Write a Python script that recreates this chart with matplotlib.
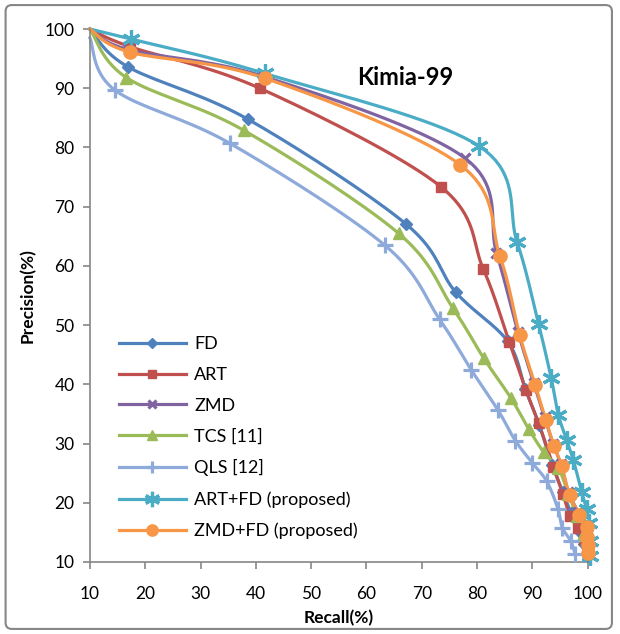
import numpy as np
import matplotlib
matplotlib.use("Agg")
import matplotlib.pyplot as plt
from matplotlib.patches import FancyBboxPatch

plt.rcParams['font.family'] = ['Lato', 'DejaVu Sans']

# Data (Recall %, Precision %)
fd_x = [10, 16.9, 38.5, 67.1, 76.1, 85.5, 88.7, 91.2, 93.6, 95.5, 97.0, 98.4, 99.4, 100]
fd_y = [100, 93.6, 84.8, 67.1, 55.6, 47.3, 39.2, 33.2, 26.3, 21.8, 18.2, 15.3, 13.0, 11.0]

art_x = [10, 17.3, 40.7, 73.4, 81.1, 85.8, 88.8, 91.1, 93.8, 95.5, 96.8, 98.3, 99.3, 100]
art_y = [100, 97.0, 90.0, 73.4, 59.5, 47.2, 39.1, 33.5, 26.1, 21.5, 17.8, 15.7, 13.8, 11.5]

zmd_x = [10, 17.0, 41.4, 77.8, 83.5, 87.4, 90.2, 92.2, 93.7, 95.1, 96.5, 98.3, 99.6, 99.8, 99.9, 100]
zmd_y = [100, 96.5, 92.0, 78.2, 62.2, 48.8, 40.3, 34.5, 30.0, 26.6, 21.8, 18.4, 16.2, 14.5, 13.0, 11.6]

tcs_x = [10, 16.6, 37.8, 65.8, 75.6, 81.2, 86.1, 89.3, 92.0, 94.7, 96.5, 98.0, 99.2, 100]
tcs_y = [100, 91.8, 82.9, 65.5, 52.9, 44.4, 37.7, 32.5, 28.6, 25.8, 21.5, 17.8, 14.5, 11.5]

qls_x = [10, 14.5, 35.3, 63.3, 73.2, 78.9, 83.8, 86.9, 90.0, 92.6, 94.6, 95.4, 96.9, 97.7]
qls_y = [98.5, 89.7, 80.7, 63.5, 51.0, 42.5, 35.6, 30.5, 26.7, 23.6, 19.0, 15.8, 13.6, 11.4]

artfd_x = [10, 17.5, 41.6, 80.4, 87.2, 91.1, 93.4, 94.7, 96.2, 97.4, 98.9, 99.8, 100.3, 100.4, 100.4]
artfd_y = [100, 98.3, 92.5, 80.2, 64.1, 50.2, 41.0, 34.8, 30.6, 27.2, 21.8, 19.0, 16.5, 13.5, 11.0]

zmdfd_x = [10, 17.2, 41.6, 76.9, 84.1, 87.7, 90.5, 92.4, 93.9, 95.3, 96.7, 98.5, 99.8, 99.9, 100, 100]
zmdfd_y = [100, 96.1, 91.7, 77.1, 61.7, 48.3, 39.9, 34.0, 29.6, 26.2, 21.3, 18.0, 15.9, 14.3, 12.9, 11.5]

labels = ["FD", "ART", "ZMD", "TCS [11]", "QLS [12]", "ART+FD (proposed)", "ZMD+FD (proposed)"]
colors = ["#4F81BD", "#C0504D", "#8064A2", "#9BBB59", "#8EAADB", "#4BACC6", "#F79646"]
markers = ["D", "s", "x", "^", "+", (6, 2, 0), "o"]
msizes = [6, 7, 7, 8, 11, 13, 9.5]
series = [(fd_x, fd_y), (art_x, art_y), (zmd_x, zmd_y), (tcs_x, tcs_y),
          (qls_x, qls_y), (artfd_x, artfd_y), (zmdfd_x, zmdfd_y)]


def smooth(x, y, n=20):
    # Catmull-Rom style smoothing, like Excel "smoothed line"
    p = np.column_stack([x, y]).astype(float)
    p = np.vstack([p[0], p, p[-1]])
    out = []
    for i in range(1, len(p) - 2):
        p0, p1, p2, p3 = p[i - 1], p[i], p[i + 1], p[i + 2]
        c1 = p1 + (p2 - p0) / 6
        c2 = p2 - (p3 - p1) / 6
        t = np.linspace(0, 1, n)[:, None]
        b = (1 - t) ** 3 * p1 + 3 * (1 - t) ** 2 * t * c1 + 3 * (1 - t) * t ** 2 * c2 + t ** 3 * p2
        out.append(b if i == 1 else b[1:])
    out = np.vstack(out)
    return out[:, 0], out[:, 1]


fig = plt.figure(figsize=(6.2, 6.34), dpi=100)
ax = fig.add_axes([0.145, 0.1136, 0.803, 0.8406])

for (sx, sy), lab, c, m, ms in zip(series, labels, colors, markers, msizes):
    lx, ly = smooth(sx, sy)
    ax.plot(lx, ly, color=c, lw=2.3, clip_on=False, zorder=2)
    mew = 2.3 if m in ["x", "+", (6, 2, 0)] else 1
    ax.plot(sx[1:], sy[1:], ls="none", marker=m, ms=ms, color=c, mec=c, mew=mew,
            clip_on=False, zorder=3)
    # legend proxy
    ax.plot([], [], color=c, lw=2.3, marker=m, ms=ms * 0.85, mew=mew, label=lab)

ax.set_xlim(10, 100)
ax.set_ylim(10, 100)
ax.set_xticks(np.arange(10, 101, 10))
ax.set_yticks(np.arange(10, 101, 10))
for s in ["top", "right"]:
    ax.spines[s].set_visible(False)
for s in ["left", "bottom"]:
    ax.spines[s].set_color("#868686")
    ax.spines[s].set_linewidth(1.2)
ax.tick_params(direction="out", length=5, width=1.2, color="#868686", labelsize=12.5, pad=6)
ax.tick_params(axis="x", pad=12)

ax.set_xlabel("Recall(%)", fontsize=12.5, fontweight="bold", labelpad=6)
ax.set_ylabel("Precision(%)", fontsize=12.5, fontweight="bold", labelpad=6)
ax.text(67, 91.9, "Kimia-99", fontsize=17, fontweight="bold", ha="center", va="center")

leg = ax.legend(loc="upper left", bbox_to_anchor=(0.192, 0.470), bbox_transform=fig.transFigure,
                frameon=False, fontsize=13, handlelength=3.7, handletextpad=0.45, labelspacing=0.82,
                borderaxespad=0, borderpad=0)

# outer chart frame
frame = FancyBboxPatch((0.009, 0.008), 0.978, 0.984, boxstyle="round,pad=0,rounding_size=0.01",
                       transform=fig.transFigure, fill=False, ec="#868686", lw=1.5)
fig.patches.append(frame)

fig.savefig("out.png", dpi=100)
